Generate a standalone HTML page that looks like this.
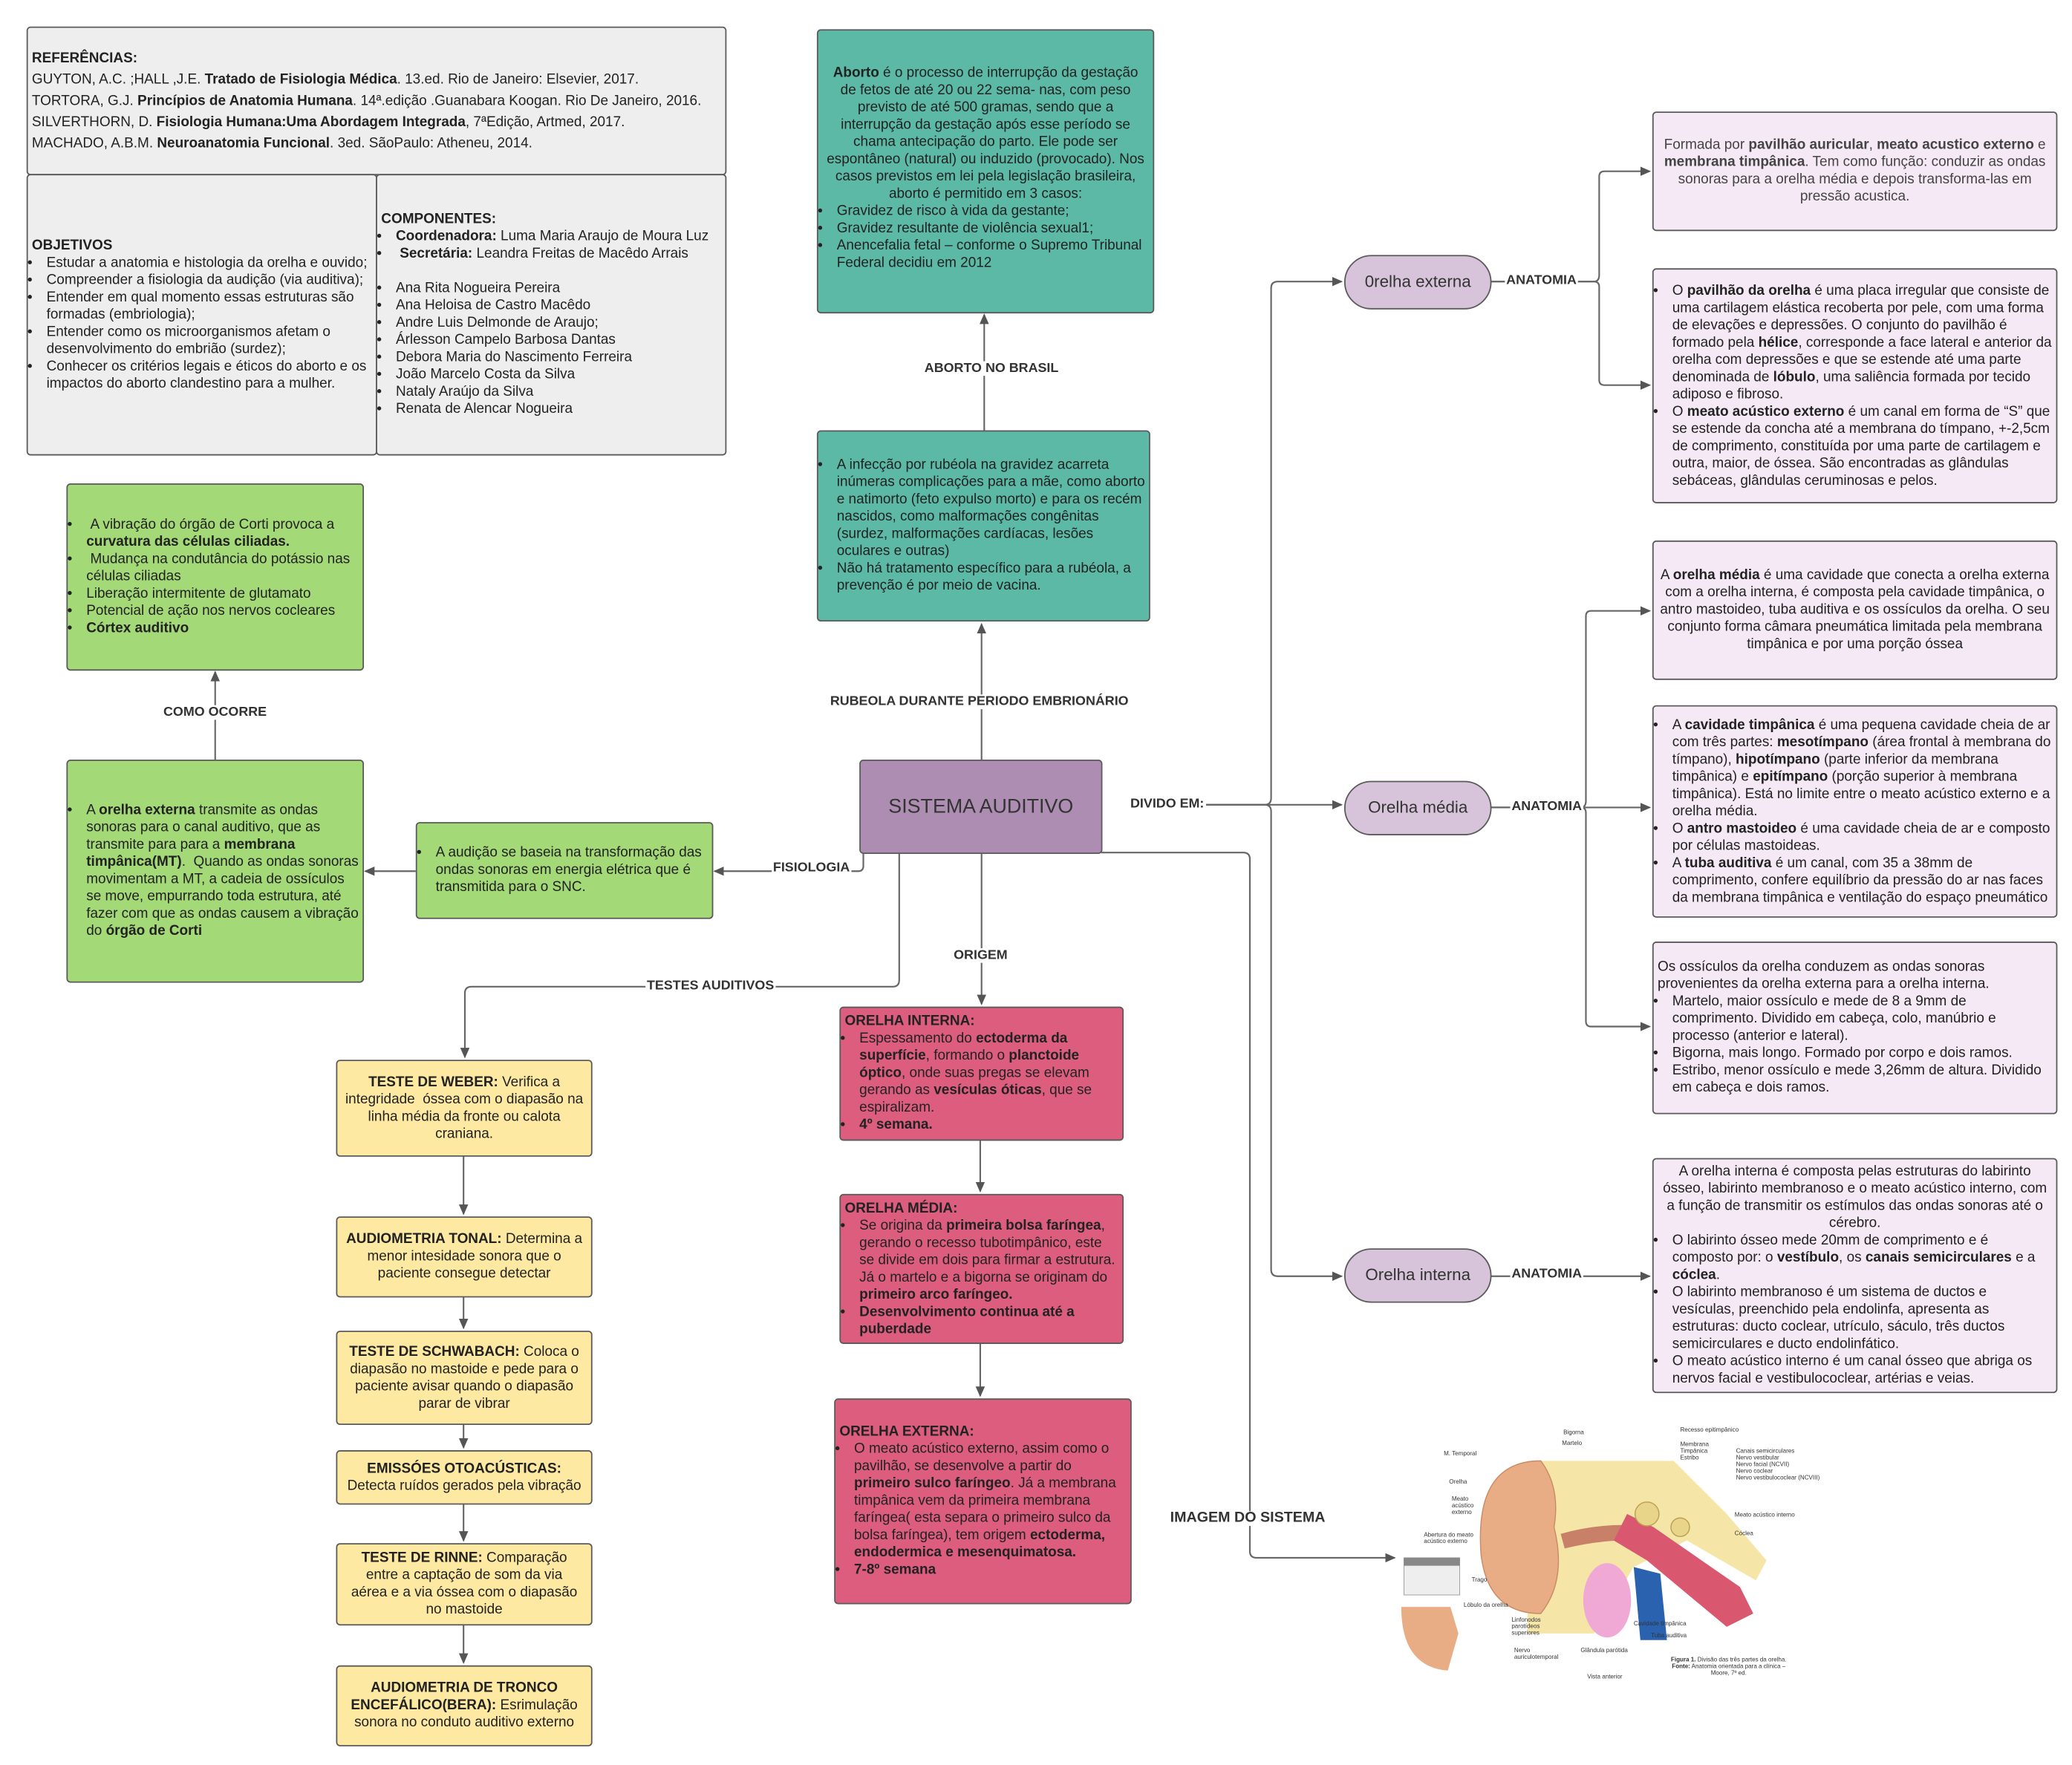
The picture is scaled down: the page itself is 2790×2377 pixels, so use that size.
<!DOCTYPE html>
<html><head><meta charset="utf-8">
<style>
html,body{margin:0;padding:0;background:#fff;}
body{width:2790px;height:2376px;overflow:hidden;position:relative;}
#s{position:absolute;left:0;top:0;width:1560px;height:1329px;transform:scale(1.7885);transform-origin:0 0;font-family:"Liberation Sans",sans-serif;font-size:10.6px;color:#222;line-height:13px;}
.b{position:absolute;box-sizing:border-box;border:1.3px solid #5a5a5a;border-radius:3px;padding:2px 3px;display:flex;flex-direction:column;justify-content:center;}
.g{background:#eeeeee;}
.t{background:#5bb9a6;}
.gr{background:#a3d977;}
.y{background:#fde9a1;}
.p{background:#dc5d7e;}
.l{background:#f4e9f5;}
.c{text-align:center;}
ul{margin:0;padding-left:10px;}
li{margin:0;padding-left:1px;}
.e{position:absolute;box-sizing:border-box;border:1.3px solid #5a5a5a;border-radius:22px;background:#d8c4da;font-size:12.5px;display:flex;align-items:center;justify-content:center;color:#333;}
.lb{position:absolute;font-size:10px;font-weight:bold;color:#333;background:#fff;line-height:11px;padding:0 1px;}
svg{position:absolute;left:0;top:0;}
.sm{position:absolute;font-size:4.5px;line-height:5px;color:#333;white-space:nowrap;}
</style></head><body><div id="s">
<svg width="1560" height="1329" viewBox="0 0 1560 1329">
<defs><marker id="a" markerWidth="8" markerHeight="8" refX="7" refY="4" orient="auto" markerUnits="userSpaceOnUse"><path d="M0,0.5 L8,4 L0,7.5z" fill="#555"/></marker></defs>
<g stroke="#666" stroke-width="1.2" fill="none" marker-end="url(#a)">
<path d="M739,572 V470"/>
<path d="M741,324 V237"/>
<path d="M650,642 V652 Q650,656 646,656 H538"/>
<path d="M313,656 H275"/>
<path d="M162,572 V506"/>
<path d="M739,642 V756"/>
<path d="M738,858 V897"/>
<path d="M738,1011 V1051"/>
<path d="M677,642 V738 Q677,743 672,743 H355 Q350,743 350,748 V796"/>
<path d="M349,870 V914"/>
<path d="M349,976 V1000"/>
<path d="M349,1072 V1090"/>
<path d="M349,1132 V1160"/>
<path d="M349,1223 V1252"/>
<path d="M829,642 H936 Q941,642 941,647 V1168 Q941,1173 946,1173 H1050"/>
<path d="M908,606 H952 Q957,606 957,601 V217 Q957,212 962,212 H1010"/>
<path d="M908,606 H1010"/>
<path d="M908,606 H952 Q957,606 957,611 V956 Q957,961 962,961 H1010"/>
<path d="M1122,212 H1200 Q1204,212 1204,207 V133 Q1204,129 1208,129 H1242"/>
<path d="M1122,212 H1200 Q1204,212 1204,216 V286 Q1204,290 1208,290 H1242"/>
<path d="M1122,608 H1190 Q1194,608 1194,603 V464 Q1194,460 1198,460 H1242"/>
<path d="M1122,608 H1242"/>
<path d="M1122,608 H1190 Q1194,608 1194,612 V769 Q1194,773 1198,773 H1242"/>
<path d="M1122,961 H1242"/>
</g>
</svg>

<div class="b g" style="left:20px;top:20px;width:527px;height:112px;padding-left:3px;line-height:16px;">
<div><b>REFERÊNCIAS:</b></div>
<div>GUYTON, A.C. ;HALL ,J.E. <b>Tratado de Fisiologia Médica</b>. 13.ed. Rio de Janeiro: Elsevier, 2017.</div>
<div>TORTORA, G.J. <b>Princípios de Anatomia Humana</b>. 14ª.edição .Guanabara Koogan. Rio De Janeiro, 2016.</div>
<div>SILVERTHORN, D. <b>Fisiologia Humana:Uma Abordagem Integrada</b>, 7ªEdição, Artmed, 2017.</div>
<div>MACHADO, A.B.M. <b>Neuroanatomia Funcional</b>. 3ed. SãoPaulo: Atheneu, 2014.</div>
</div>
<div class="b g" style="left:20px;top:131px;width:264px;height:212px;">
<div><b>OBJETIVOS</b></div>
<ul><li>Estudar a anatomia e histologia da orelha e ouvido;</li><li>Compreender a fisiologia da audição (via auditiva);</li><li>Entender em qual momento essas estruturas são formadas (embriologia);</li><li>Entender como os microorganismos afetam o desenvolvimento do embrião (surdez);</li><li>Conhecer os critérios legais e éticos do aborto e os impactos do aborto clandestino para a mulher.</li></ul>
</div>
<div class="b g" style="left:283px;top:131px;width:264px;height:212px;">
<div><b>COMPONENTES:</b></div>
<ul><li><b>Coordenadora:</b> Luma Maria Araujo de Moura Luz</li><li>&nbsp;<b>Secretária:</b> Leandra Freitas de Macêdo Arrais</li><li style="list-style:none">&nbsp;</li><li>Ana Rita Nogueira Pereira</li><li>Ana Heloisa de Castro Macêdo</li><li>Andre Luis Delmonde de Araujo;</li><li>Árlesson Campelo Barbosa Dantas</li><li>Debora Maria do Nascimento Ferreira</li><li>João Marcelo Costa da Silva</li><li>Nataly Araújo da Silva</li><li>Renata de Alencar Nogueira</li></ul>
</div>

<div class="b t" style="left:615px;top:22px;width:254px;height:214px;justify-content:flex-start;padding-top:26px;padding-left:5px;padding-right:5px;">
<div class="c"><b>Aborto</b> é o processo de interrupção da gestação de fetos de até 20 ou 22 sema- nas, com peso previsto de até 500 gramas, sendo que a interrupção da gestação após esse período se chama antecipação do parto. Ele pode ser espontâneo (natural) ou induzido (provocado). Nos casos previstos em lei pela legislação brasileira, aborto é permitido em 3 casos:</div>
<ul style="margin-left:-2px"><li>Gravidez de risco à vida da gestante;</li><li>Gravidez resultante de violência sexual1;</li><li>Anencefalia fetal – conforme o Supremo Tribunal Federal decidiu em 2012</li></ul>
</div>
<div class="lb" style="left:695px;top:272px;">ABORTO NO BRASIL</div>
<div class="b t" style="left:615px;top:324px;width:251px;height:144px;">
<ul><li>A infecção por rubéola na gravidez acarreta inúmeras complicações para a mãe, como aborto e natimorto (feto expulso morto) e para os recém nascidos, como malformações congênitas (surdez, malformações cardíacas, lesões oculares e outras)</li><li>Não há tratamento específico para a rubéola, a prevenção é por meio de vacina.</li></ul>
</div>
<div class="lb" style="left:624px;top:523px;">RUBEOLA DURANTE PERIODO EMBRIONÁRIO</div>

<div class="b" style="left:647px;top:572px;width:183px;height:71px;background:#ad8db2;font-size:15px;color:#333;align-items:center;">SISTEMA AUDITIVO</div>
<div class="lb" style="left:850px;top:600px;">DIVIDO EM:</div>
<div class="lb" style="left:581px;top:648px;">FISIOLOGIA</div>
<div class="lb" style="left:717px;top:714px;">ORIGEM</div>
<div class="lb" style="left:486px;top:737px;">TESTES AUDITIVOS</div>
<div class="lb" style="left:122px;top:531px;">COMO OCORRE</div>
<div class="lb" style="left:880px;top:1138px;font-size:11px;">IMAGEM DO SISTEMA</div>

<div class="b gr" style="left:50px;top:364px;width:224px;height:141px;">
<ul><li>&nbsp;A vibração do órgão de Corti provoca a <b>curvatura das células ciliadas.</b></li><li>&nbsp;Mudança na condutância do potássio nas células ciliadas</li><li>Liberação intermitente de glutamato</li><li>Potencial de ação nos nervos cocleares</li><li><b>Córtex auditivo</b></li></ul>
</div>
<div class="b gr" style="left:50px;top:572px;width:224px;height:168px;">
<ul><li>A <b>orelha externa</b> transmite as ondas sonoras para o canal auditivo, que as transmite para para a <b>membrana timpânica(MT)</b>.&nbsp; Quando as ondas sonoras movimentam a MT, a cadeia de ossículos se move, empurrando toda estrutura, até fazer com que as ondas causem a vibração do <b>órgão de Corti</b></li></ul>
</div>
<div class="b gr" style="left:313px;top:619px;width:224px;height:73px;">
<ul><li>A audição se baseia na transformação das ondas sonoras em energia elétrica que é transmitida para o SNC.</li></ul>
</div>

<div class="b y c" style="left:253px;top:798px;width:193px;height:73px;"><div><b>TESTE DE WEBER:</b> Verifica a integridade&nbsp; óssea com o diapasão na linha média da fronte ou calota craniana.</div></div>
<div class="b y c" style="left:253px;top:916px;width:193px;height:61px;"><div><b>AUDIOMETRIA TONAL:</b> Determina a menor intesidade sonora que o paciente consegue detectar</div></div>
<div class="b y c" style="left:253px;top:1002px;width:193px;height:71px;"><div><b>TESTE DE SCHWABACH:</b> Coloca o diapasão no mastoide e pede para o paciente avisar quando o diapasão parar de vibrar</div></div>
<div class="b y c" style="left:253px;top:1092px;width:193px;height:41px;"><div><b>EMISSÓES OTOACÚSTICAS:</b> Detecta ruídos gerados pela vibração</div></div>
<div class="b y c" style="left:253px;top:1162px;width:193px;height:62px;padding:2px 8px;"><div><b>TESTE DE RINNE:</b> Comparação entre a captação de som da via aérea e a via óssea com o diapasão no mastoide</div></div>
<div class="b y c" style="left:253px;top:1254px;width:193px;height:61px;padding:2px 8px;"><div><b>AUDIOMETRIA DE TRONCO ENCEFÁLICO(BERA):</b> Esrimulação sonora no conduto auditivo externo</div></div>

<div class="b p" style="left:632px;top:758px;width:214px;height:101px;">
<div><b>ORELHA INTERNA:</b></div><ul><li>Espessamento do <b>ectoderma da superfície</b>, formando o <b>planctoide óptico</b>, onde suas pregas se elevam gerando as <b>vesículas óticas</b>, que se espiralizam.</li><li><b>4º semana.</b></li></ul>
</div>
<div class="b p" style="left:632px;top:899px;width:214px;height:113px;">
<div><b>ORELHA MÉDIA:</b></div><ul><li>Se origina da <b>primeira bolsa faríngea</b>, gerando o recesso tubotimpânico, este se divide em dois para firmar a estrutura. Já o martelo e a bigorna se originam do <b>primeiro arco faríngeo.</b></li><li><b>Desenvolvimento continua até a puberdade</b></li></ul>
</div>
<div class="b p" style="left:628px;top:1053px;width:224px;height:155px;">
<div><b>ORELHA EXTERNA:</b></div><ul><li>O meato acústico externo, assim como o pavilhão, se desenvolve a partir do <b>primeiro sulco faríngeo</b>. Já a membrana timpânica vem da primeira membrana faríngea( esta separa o primeiro sulco da bolsa faríngea), tem origem <b>ectoderma, endodermica e mesenquimatosa.</b></li><li><b>7-8º semana</b></li></ul>
</div>

<div class="e" style="left:1012px;top:192px;width:111px;height:41px;">0relha externa</div>
<div class="e" style="left:1012px;top:588px;width:111px;height:41px;">Orelha média</div>
<div class="e" style="left:1012px;top:940px;width:111px;height:41px;">Orelha interna</div>
<div class="lb" style="left:1133px;top:206px;">ANATOMIA</div>
<div class="lb" style="left:1137px;top:602px;">ANATOMIA</div>
<div class="lb" style="left:1137px;top:954px;">ANATOMIA</div>

<div class="b l c" style="left:1244px;top:84px;width:305px;height:90px;color:#444;"><div>Formada por <b>pavilhão auricular</b>, <b>meato acustico externo</b> e <b>membrana timpânica</b>. Tem como função: conduzir as ondas sonoras para a orelha média e depois transforma-las em pressão acustica.</div></div>
<div class="b l" style="left:1244px;top:202px;width:305px;height:177px;">
<ul><li>O <b>pavilhão da orelha</b> é uma placa irregular que consiste de uma cartilagem elástica recoberta por pele, com uma forma de elevações e depressões. O conjunto do pavilhão é formado pela <b>hélice</b>, corresponde a face lateral e anterior da orelha com depressões e que se estende até uma parte denominada de <b>lóbulo</b>, uma saliência formada por tecido adiposo e fibroso.</li><li>O <b>meato acústico externo</b> é um canal em forma de “S” que se estende da concha até a membrana do tímpano, +-2,5cm de comprimento, constituída por uma parte de cartilagem e outra, maior, de óssea. São encontradas as glândulas sebáceas, glândulas ceruminosas e pelos.</li></ul>
</div>
<div class="b l c" style="left:1244px;top:407px;width:305px;height:105px;"><div>A <b>orelha média</b> é uma cavidade que conecta a orelha externa com a orelha interna, é composta pela cavidade timpânica, o antro mastoideo, tuba auditiva e os ossículos da orelha. O seu conjunto forma câmara pneumática limitada pela membrana timpânica e por uma porção óssea</div></div>
<div class="b l" style="left:1244px;top:531px;width:305px;height:160px;">
<ul><li>A <b>cavidade timpânica</b> é uma pequena cavidade cheia de ar com três partes: <b>mesotímpano</b> (área frontal à membrana do tímpano), <b>hipotímpano</b> (parte inferior da membrana timpânica) e <b>epitímpano</b> (porção superior à membrana timpânica). Está no limite entre o meato acústico externo e a orelha média.</li><li>O <b>antro mastoideo</b> é uma cavidade cheia de ar e composto por células mastoideas.</li><li>A <b>tuba auditiva</b> é um canal, com 35 a 38mm de comprimento, confere equilíbrio da pressão do ar nas faces da membrana timpânica e ventilação do espaço pneumático</li></ul>
</div>
<div class="b l" style="left:1244px;top:709px;width:305px;height:130px;">
<div>Os ossículos da orelha conduzem as ondas sonoras provenientes da orelha externa para a orelha interna.</div>
<ul><li>Martelo, maior ossículo e mede de 8 a 9mm de comprimento. Dividido em cabeça, colo, manúbrio e processo (anterior e lateral).</li><li>Bigorna, mais longo. Formado por corpo e dois ramos.</li><li>Estribo, menor ossículo e mede 3,26mm de altura. Dividido em cabeça e dois ramos.</li></ul>
</div>
<div class="b l" style="left:1244px;top:872px;width:305px;height:177px;">
<div class="c">A orelha interna é composta pelas estruturas do labirinto ósseo, labirinto membranoso e o meato acústico interno, com a função de transmitir os estímulos das ondas sonoras até o cérebro.</div>
<ul><li>O labirinto ósseo mede 20mm de comprimento e é composto por: o <b>vestíbulo</b>, os <b>canais semicirculares</b> e a <b>cóclea</b>.</li><li>O labirinto membranoso é um sistema de ductos e vesículas, preenchido pela endolinfa, apresenta as estruturas: ducto coclear, utrículo, sáculo, três ductos semicirculares e ducto endolinfático.</li><li>O meato acústico interno é um canal ósseo que abriga os nervos facial e vestibulococlear, artérias e veias.</li></ul>
</div>

<!-- ear illustration -->
<svg width="1560" height="1329" viewBox="0 0 1560 1329">
<path d="M1150,1100 H1260 L1300,1140 L1330,1175 L1322,1190 L1270,1160 L1230,1180 L1200,1230 H1150z" fill="#f5e6a8"/>
<path d="M1160,1100 Q1110,1100 1115,1170 Q1120,1215 1160,1215 Q1180,1190 1170,1150 Q1175,1120 1160,1100z" fill="#e9ad85" stroke="#c98a66" stroke-width="0.8"/>
<path d="M1175,1155 Q1210,1145 1245,1150 L1245,1160 Q1210,1158 1178,1166z" fill="#c98068"/>
<path d="M1225,1140 L1245,1150 L1310,1195 L1320,1215 L1300,1225 L1240,1175 L1215,1160z" fill="#d9586f"/>
<path d="M1230,1180 L1250,1185 L1255,1235 L1235,1235z" fill="#2a62b0"/>
<circle cx="1240" cy="1140" r="9" fill="#e8d58a" stroke="#b9a050" stroke-width="0.8"/>
<circle cx="1265" cy="1150" r="7" fill="#e8d58a" stroke="#b9a050" stroke-width="0.8"/>
<ellipse cx="1210" cy="1205" rx="18" ry="28" fill="#f0a8d4"/>
<path d="M1055,1210 Q1055,1255 1090,1258 L1098,1230 L1092,1210z" fill="#e9ad85"/>
<rect x="1057" y="1173" width="42" height="28" fill="#eee" stroke="#999" stroke-width="0.5"/>
<rect x="1057" y="1173" width="42" height="6" fill="#888"/>
</svg>
<div class="sm" style="left:1177px;top:1076px;">Bigorna</div>
<div class="sm" style="left:1176px;top:1084px;">Martelo</div>
<div class="sm" style="left:1087px;top:1092px;">M. Temporal</div>
<div class="sm" style="left:1091px;top:1113px;">Orelha</div>
<div class="sm" style="left:1093px;top:1126px;">Meato<br>acústico<br>externo</div>
<div class="sm" style="left:1072px;top:1153px;">Abertura do meato<br>acústico externo</div>
<div class="sm" style="left:1108px;top:1187px;">Trago</div>
<div class="sm" style="left:1102px;top:1206px;">Lóbulo da orelha</div>
<div class="sm" style="left:1138px;top:1217px;">Linfonodos<br>parotídeos<br>superiores</div>
<div class="sm" style="left:1140px;top:1240px;">Nervo<br>auriculotemporal</div>
<div class="sm" style="left:1190px;top:1240px;">Glândula parótida</div>
<div class="sm" style="left:1195px;top:1260px;">Vista anterior</div>
<div class="sm" style="left:1265px;top:1074px;">Recesso epitimpânico</div>
<div class="sm" style="left:1265px;top:1085px;">Membrana<br>Timpânica<br>Estribo</div>
<div class="sm" style="left:1307px;top:1090px;">Canais semicirculares<br>Nervo vestibular<br>Nervo facial (NCVII)<br>Nervo coclear<br>Nervo vestibulococlear (NCVIII)</div>
<div class="sm" style="left:1306px;top:1138px;">Meato acústico interno</div>
<div class="sm" style="left:1306px;top:1152px;">Cóclea</div>
<div class="sm" style="left:1230px;top:1220px;">Cavidade timpânica</div>
<div class="sm" style="left:1243px;top:1229px;">Tuba auditiva</div>
<div class="sm" style="left:1258px;top:1247px;text-align:center;"><b>Figura 1.</b> Divisão das três partes da orelha.<br><b>Fonte:</b> Anatomia orientada para a clínica –<br>Moore, 7º ed.</div>
</div></body></html>
